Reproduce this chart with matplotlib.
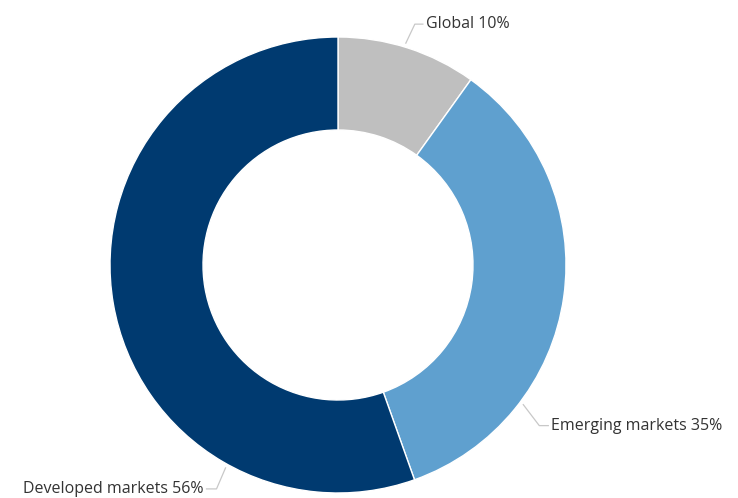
import numpy as np
import matplotlib.pyplot as plt

plt.rcParams['font.family'] = ['Open Sans', 'DejaVu Sans']

# 地域別の配分
labels = ["Global", "Emerging markets", "Developed markets"]
values = [10, 35, 56]
colors = ["#bfbfbf", "#5fa0cf", "#003a70"]

W, H = 738, 498
fig = plt.figure(figsize=(W / 100, H / 100), dpi=100)
ax = fig.add_axes([0, 0, 1, 1])

cx, cy = 338, H - 265
r_out, r_in = 228, 135
ax.pie(values, colors=colors, startangle=90, counterclock=False,
       center=(cx, cy), radius=r_out,
       wedgeprops=dict(width=r_out - r_in, edgecolor="white", linewidth=1))
ax.set_xlim(0, W)
ax.set_ylim(0, H)
ax.set_aspect("equal")
ax.axis("off")

# ラベル：引き出し線の角度（12時方向から時計回り）と折れ点のオフセット
anchor_deg = [17, 127, 209]
elbow = [(9, 19), (16, -21), (-9, -21)]
tail = [8, 9, -10]
for lab, v, a, (ex, ey), t in zip(labels, values, anchor_deg, elbow, tail):
    th = np.deg2rad(90 - a)
    r = r_out + 4
    x0, y0 = cx + r * np.cos(th), cy + r * np.sin(th)
    x1, y1 = x0 + ex, y0 + ey
    x2 = x1 + t
    ax.plot([x0, x1, x2], [y0, y1, y1], color="#c8c8c8", lw=0.9)
    ha = "left" if t > 0 else "right"
    ax.text(x2 + (3 if t > 0 else -3), y1, f"{lab} {round(v)}%",
            ha=ha, va="center", fontsize=11.5, color="#333333")

fig.savefig("out.png", dpi=100)
